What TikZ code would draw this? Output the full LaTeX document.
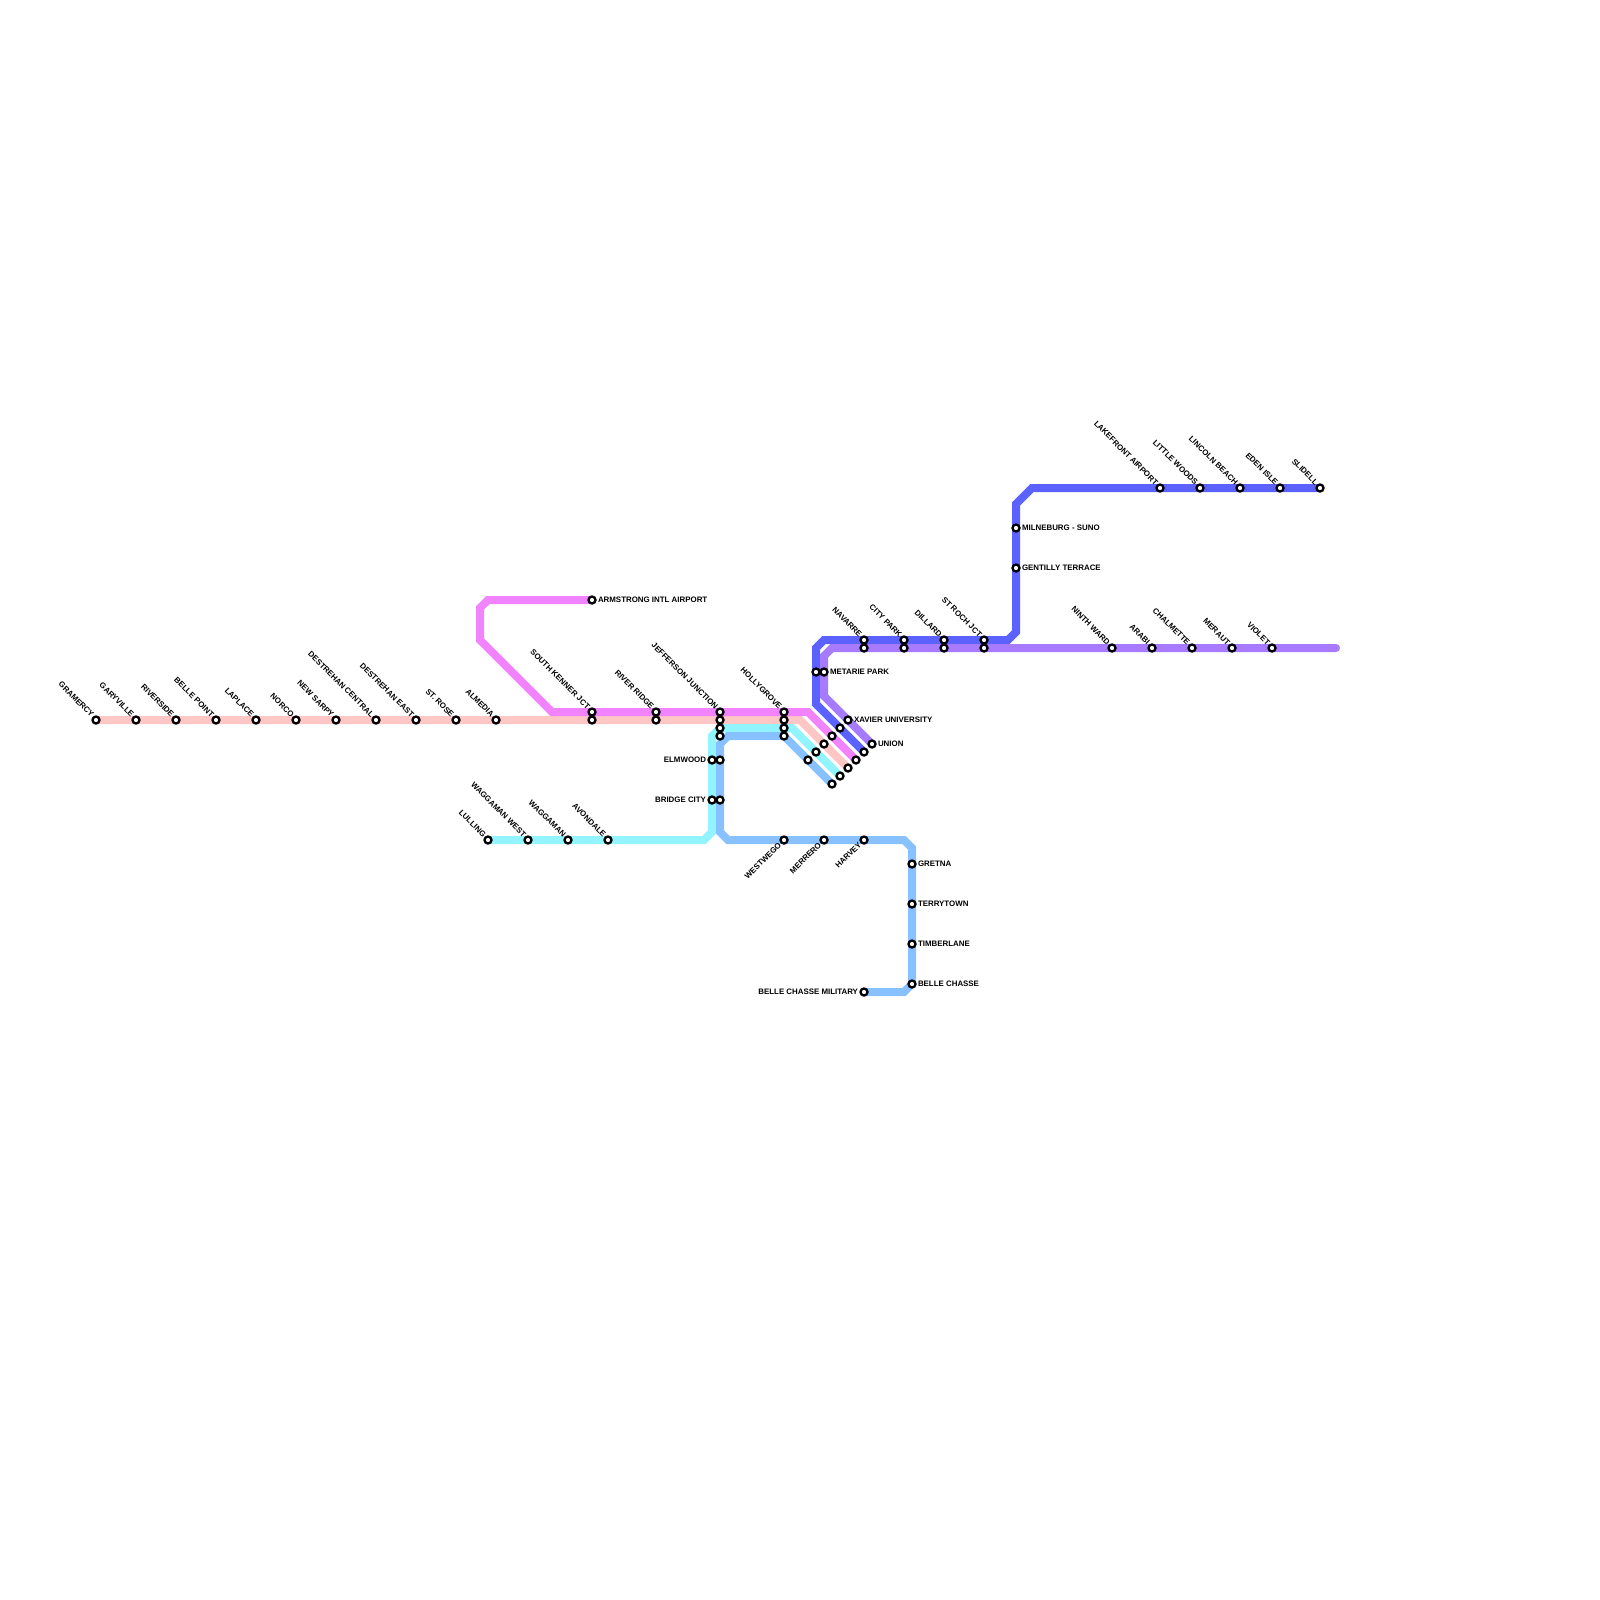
\documentclass[tikz,border=0pt]{standalone}
\usepackage{fontspec}
\setmainfont{Liberation Sans}
\usetikzlibrary{backgrounds}
\definecolor{lpink}{HTML}{FFC6C6}
\definecolor{lmag}{HTML}{F283FF}
\definecolor{lcyan}{HTML}{92F4FF}
\definecolor{lblue}{HTML}{88C1FF}
\definecolor{ldark}{HTML}{5B62FF}
\definecolor{lpurp}{HTML}{A67BFF}
\tikzset{
  stn/.style={circle,draw=black,fill=white,line width=2.3pt,inner sep=0pt,outer sep=0pt,minimum size=7pt},
  route/.style={line width=8pt,line join=miter,line cap=round},
  lbl/.style={inner sep=0pt,outer sep=0pt,text=black,font=\fontsize{7.9pt}{9pt}\selectfont\bfseries},
  lblnw/.style={lbl,rotate=-45,anchor=east},
  lblsw/.style={lbl,rotate=45,anchor=east},
  lble/.style={lbl,anchor=west},
  lblw/.style={lbl,anchor=east}
}
\newcommand{\stNW}[4]{\node[stn] (#1) at (#2,#3) {}; \node[lblnw] (#1-l) at ([shift={(-3.4,-4.4)}]#1.center) {#4};}
\newcommand{\stSW}[4]{\node[stn] (#1) at (#2,#3) {}; \node[lblsw] (#1-l) at ([shift={(-4.2,3.8)}]#1.center) {#4};}
\newcommand{\stE}[4]{\node[stn] (#1) at (#2,#3) {}; \node[lble] (#1-l) at ([shift={(6,-0.7)}]#1.center) {#4};}
\newcommand{\stW}[4]{\node[stn] (#1) at (#2,#3) {}; \node[lblw] (#1-l) at ([shift={(-6,-0.7)}]#1.center) {#4};}
\newcommand{\st}[3]{\node[stn] (#1) at (#2,#3) {};}
\begin{document}
\begin{tikzpicture}[x=1pt,y=-1pt]
\useasboundingbox (0,0) rectangle (1600,1600);
% pink line stations
\stNW{gramercy}{96}{720}{GRAMERCY}
\stNW{garyville}{136}{720}{GARYVILLE}
\stNW{riverside}{176}{720}{RIVERSIDE}
\stNW{bellepoint}{216}{720}{BELLE POINT}
\stNW{laplace}{256}{720}{LAPLACE}
\stNW{norco}{296}{720}{NORCO}
\stNW{newsarpy}{336}{720}{NEW SARPY}
\stNW{destcentral}{376}{720}{DESTREHAN CENTRAL}
\stNW{desteast}{416}{720}{DESTREHAN EAST}
\stNW{strose}{456}{720}{ST. ROSE}
\stNW{almedia}{496}{720}{ALMEDIA}
\st{skenner2}{592}{720}
\st{river2}{656}{720}
\st{jeff2}{720}{720}
\st{holly2}{784}{720}
\st{pinkd1}{824}{744}
\st{pinkd2}{848}{768}
% magenta
\stE{armstrong}{592}{600}{ARMSTRONG INTL AIRPORT}
\stNW{skenner}{592}{712}{SOUTH KENNER JCT}
\stNW{river}{656}{712}{RIVER RIDGE}
\stNW{jeff}{720}{712}{JEFFERSON JUNCTION}
\stNW{holly}{784}{712}{HOLLYGROVE}
\st{magd1}{832}{736}
\st{magd2}{856}{760}
% cyan
\stNW{lulling}{488}{840}{LULLING}
\stNW{wagwest}{528}{840}{WAGGAMAN WEST}
\stNW{waggaman}{568}{840}{WAGGAMAN}
\stNW{avondale}{608}{840}{AVONDALE}
\stW{bridge}{712}{800}{BRIDGE CITY}
\stW{elmwood}{712}{760}{ELMWOOD}
\st{jeff3}{720}{728}
\st{holly3}{784}{728}
\st{cyand1}{816}{752}
\st{cyand2}{840}{776}
% light blue
\stW{bellemil}{864}{992}{BELLE CHASSE MILITARY}
\stE{bellec}{912}{984}{BELLE CHASSE}
\stE{timber}{912}{944}{TIMBERLANE}
\stE{terry}{912}{904}{TERRYTOWN}
\stE{gretna}{912}{864}{GRETNA}
\stSW{harvey}{864}{840}{HARVEY}
\stSW{merrero}{824}{840}{MERRERO}
\stSW{westwego}{784}{840}{WESTWEGO}
\st{bridge2}{720}{800}
\st{elmwood2}{720}{760}
\st{jeff4}{720}{736}
\st{holly4}{784}{736}
\st{blued1}{808}{760}
\st{blued2}{832}{784}
% dark blue
\st{metarie1}{816}{672}
\st{darkd1}{840}{728}
\st{darkd2}{864}{752}
\stNW{navarre}{864}{640}{NAVARRE}
\stNW{citypark}{904}{640}{CITY PARK}
\stNW{dillard}{944}{640}{DILLARD}
\stNW{stroch}{984}{640}{ST ROCH JCT}
\stE{gentilly}{1016}{568}{GENTILLY TERRACE}
\stE{milneburg}{1016}{528}{MILNEBURG - SUNO}
\stNW{lakefront}{1160}{488}{LAKEFRONT AIRPORT}
\stNW{littlewoods}{1200}{488}{LITTLE WOODS}
\stNW{lincoln}{1240}{488}{LINCOLN BEACH}
\stNW{eden}{1280}{488}{EDEN ISLE}
\stNW{slidell}{1320}{488}{SLIDELL}
% purple
\stE{union}{872}{744}{UNION}
\stE{xavier}{848}{720}{XAVIER UNIVERSITY}
\stE{metarie}{824}{672}{METARIE PARK}
\st{navarre2}{864}{648}
\st{citypark2}{904}{648}
\st{dillard2}{944}{648}
\st{stroch2}{984}{648}
\stNW{ninth}{1112}{648}{NINTH WARD}
\stNW{arabi}{1152}{648}{ARABI}
\stNW{chalmette}{1192}{648}{CHALMETTE}
\stNW{meraut}{1232}{648}{MERAUT}
\stNW{violet}{1272}{648}{VIOLET}
% bends
\coordinate (pinkb) at (800,720);
\coordinate (magb1) at (488,600);
\coordinate (magb2) at (480,608);
\coordinate (magb3) at (480,640);
\coordinate (magb4) at (552,712);
\coordinate (magb5) at (808,712);
\coordinate (cyb1) at (704,840);
\coordinate (cyb2) at (712,832);
\coordinate (cyb3) at (712,736);
\coordinate (cyb4) at (720,728);
\coordinate (cyb5) at (792,728);
\coordinate (blb1) at (904,992);
\coordinate (blb2) at (912,984);
\coordinate (blb3) at (912,848);
\coordinate (blb4) at (904,840);
\coordinate (blb5) at (728,840);
\coordinate (blb6) at (720,832);
\coordinate (blb7) at (720,744);
\coordinate (blb8) at (728,736);
\coordinate (dkb1) at (816,704);
\coordinate (dkb2) at (816,648);
\coordinate (dkb3) at (824,640);
\coordinate (dkb4) at (1008,640);
\coordinate (dkb5) at (1016,632);
\coordinate (dkb6) at (1016,504);
\coordinate (dkb7) at (1032,488);
\coordinate (pub1) at (824,696);
\coordinate (pub2) at (824,656);
\coordinate (pub3) at (832,648);
\coordinate (pubend) at (1336,648);
\begin{pgfonlayer}{background}
\fill[white] (0,0) rectangle (1600,1600);
\draw[route,lpink] (gramercy.center) -- (pinkb) -- (pinkd2.center);
\draw[route,lmag] (armstrong.center) -- (magb1) -- (magb2) -- (magb3) -- (magb4) -- (magb5) -- (magd2.center);
\draw[route,lcyan] (lulling.center) -- (cyb1) -- (cyb2) -- (cyb3) -- (cyb4) -- (cyb5) -- (cyand2.center);
\draw[route,lblue] (bellemil.center) -- (blb1) -- (blb2) -- (blb3) -- (blb4) -- (blb5) -- (blb6) -- (blb7) -- (blb8) -- (holly4.center) -- (blued2.center);
\draw[route,ldark] (darkd2.center) -- (dkb1) -- (dkb2) -- (dkb3) -- (dkb4) -- (dkb5) -- (dkb6) -- (dkb7) -- (slidell.center);
\draw[route,lpurp] (union.center) -- (pub1) -- (pub2) -- (pub3) -- (pubend);
\end{pgfonlayer}
\end{tikzpicture}
\end{document}
